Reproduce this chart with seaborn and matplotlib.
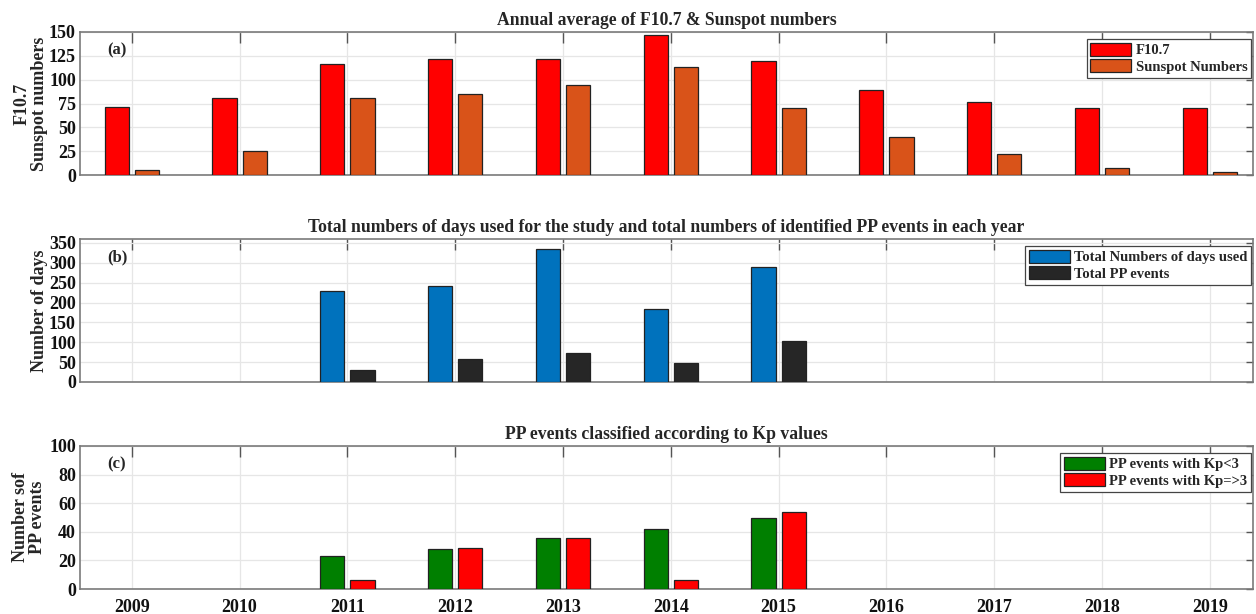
import matplotlib
matplotlib.use("Agg")
import matplotlib.pyplot as plt
import matplotlib.patches as mpatches
import numpy as np
import pandas as pd
import seaborn as sns

# ---- data -------------------------------------------------------------
years = [2009, 2010, 2011, 2012, 2013, 2014, 2015, 2016, 2017, 2018, 2019]

f107 = [71, 81, 116, 122, 122, 147, 120, 89, 77, 70, 70]
sunspots = [4.8, 25, 81, 85, 94.5, 113, 70, 40, 22, 7, 3.6]

days_used = [np.nan, np.nan, 228, 241, 335, 183, 290, np.nan, np.nan, np.nan, np.nan]
pp_events = [np.nan, np.nan, 29, 57, 72, 47, 104, np.nan, np.nan, np.nan, np.nan]

kp_low = [np.nan, np.nan, 23, 28, 36, 42, 50, np.nan, np.nan, np.nan, np.nan]
kp_high = [np.nan, np.nan, 6, 29, 36, 6, 54, np.nan, np.nan, np.nan, np.nan]

# ---- style ------------------------------------------------------------
sns.set_theme(style="white")
plt.rcParams["font.family"] = ["Liberation Serif", "DejaVu Serif"]
plt.rcParams["font.weight"] = "bold"
plt.rcParams["axes.titleweight"] = "bold"
plt.rcParams["axes.labelweight"] = "bold"

FRAME = "#7a7a7a"
GRID = "#e6e6e6"
W, H = 1256, 614

fig = plt.figure(figsize=(W / 100, H / 100), dpi=100)

left, width, height = 80 / W, (1253 - 80) / W, 143 / H
bottoms = [1 - 175 / H, 1 - 382 / H, 1 - 589 / H]
axw_px, axh_px = 1253 - 80, 143


def panel(bottom, s1, s2, names, colors, ylim, yticks, ylabel, title, tag,
          label_right_px, show_xlabels=False):
    ax = fig.add_axes([left, bottom, width, height])
    df = pd.DataFrame({
        "year": years * 2,
        "value": list(s1) + list(s2),
        "series": [names[0]] * len(years) + [names[1]] * len(years),
    })
    sns.barplot(data=df, x="year", y="value", hue="series", hue_order=names,
                palette=colors, native_scale=True, width=0.56, gap=0.2,
                edgecolor="#222222", linewidth=0.9, saturation=1,
                errorbar=None, ax=ax, legend=False, zorder=3)
    ax.set_xlim(2008.52, 2019.4)
    ax.set_ylim(*ylim)
    ax.set_yticks(yticks)
    ax.set_xticks(years)
    if show_xlabels:
        ax.set_xticklabels([str(y) for y in years], fontsize=13, fontweight="bold")
    else:
        ax.set_xticklabels([])
    for lab in ax.get_yticklabels():
        lab.set_fontsize(13)
        lab.set_fontweight("bold")
    ax.set_xlabel("")
    ax.set_ylabel(ylabel, fontsize=13, fontweight="bold", linespacing=1.0)
    ax.yaxis.set_label_coords((label_right_px - 80) / axw_px, 0.5)
    ax.set_title(title, fontsize=12.7, fontweight="bold", pad=5)
    ax.grid(True, color=GRID, linewidth=0.9, zorder=0)
    ax.set_axisbelow(True)
    ax.tick_params(axis="both", direction="in", top=True, right=True,
                   color="#555555", length=8, width=1.0, pad=3,
                   labelcolor="#111111")
    ax.tick_params(axis="x", pad=7)
    ax.tick_params(axis="y", length=5)
    for sp in ax.spines.values():
        sp.set_color(FRAME)
        sp.set_linewidth(1.2)
    ax.text(0.023, 0.93, tag, transform=ax.transAxes, fontsize=12,
            fontweight="bold", va="top", ha="left")
    handles = [mpatches.Patch(facecolor=c, edgecolor="#222222", linewidth=0.9)
               for c in colors]
    leg = ax.legend(handles, names, loc="upper right",
                    bbox_to_anchor=(1 - 2 / axw_px, 1 - 7 / axh_px),
                    fancybox=False, framealpha=1, edgecolor="#444444",
                    handlelength=2.8, handleheight=1.0, handletextpad=0.3,
                    borderpad=0.25, labelspacing=0.15, borderaxespad=0,
                    prop={"weight": "bold", "size": 10.5})
    leg.get_frame().set_linewidth(0.9)
    return ax


panel(bottoms[0], f107, sunspots, ["F10.7", "Sunspot Numbers"],
      ["#FF0000", "#D95319"], (0, 150), [0, 25, 50, 75, 100, 125, 150],
      "F10.7\nSunspot numbers", "Annual average of F10.7 & Sunspot numbers", "(a)",
      label_right_px=48)

panel(bottoms[1], days_used, pp_events, ["Total Numbers of days used", "Total PP events"],
      ["#0072BD", "#262626"], (0, 360), [0, 50, 100, 150, 200, 250, 300, 350],
      "Number of days",
      "Total numbers of days used for the study and total numbers of identified PP events in each year",
      "(b)", label_right_px=48)

panel(bottoms[2], kp_low, kp_high, ["PP events with Kp<3", "PP events with Kp=>3"],
      ["#007F00", "#FF0000"], (0, 100), [0, 20, 40, 60, 80, 100],
      "Number sof\nPP events", "PP events classified according to Kp values", "(c)",
      label_right_px=46, show_xlabels=True)

fig.savefig("out.png", dpi=100)
